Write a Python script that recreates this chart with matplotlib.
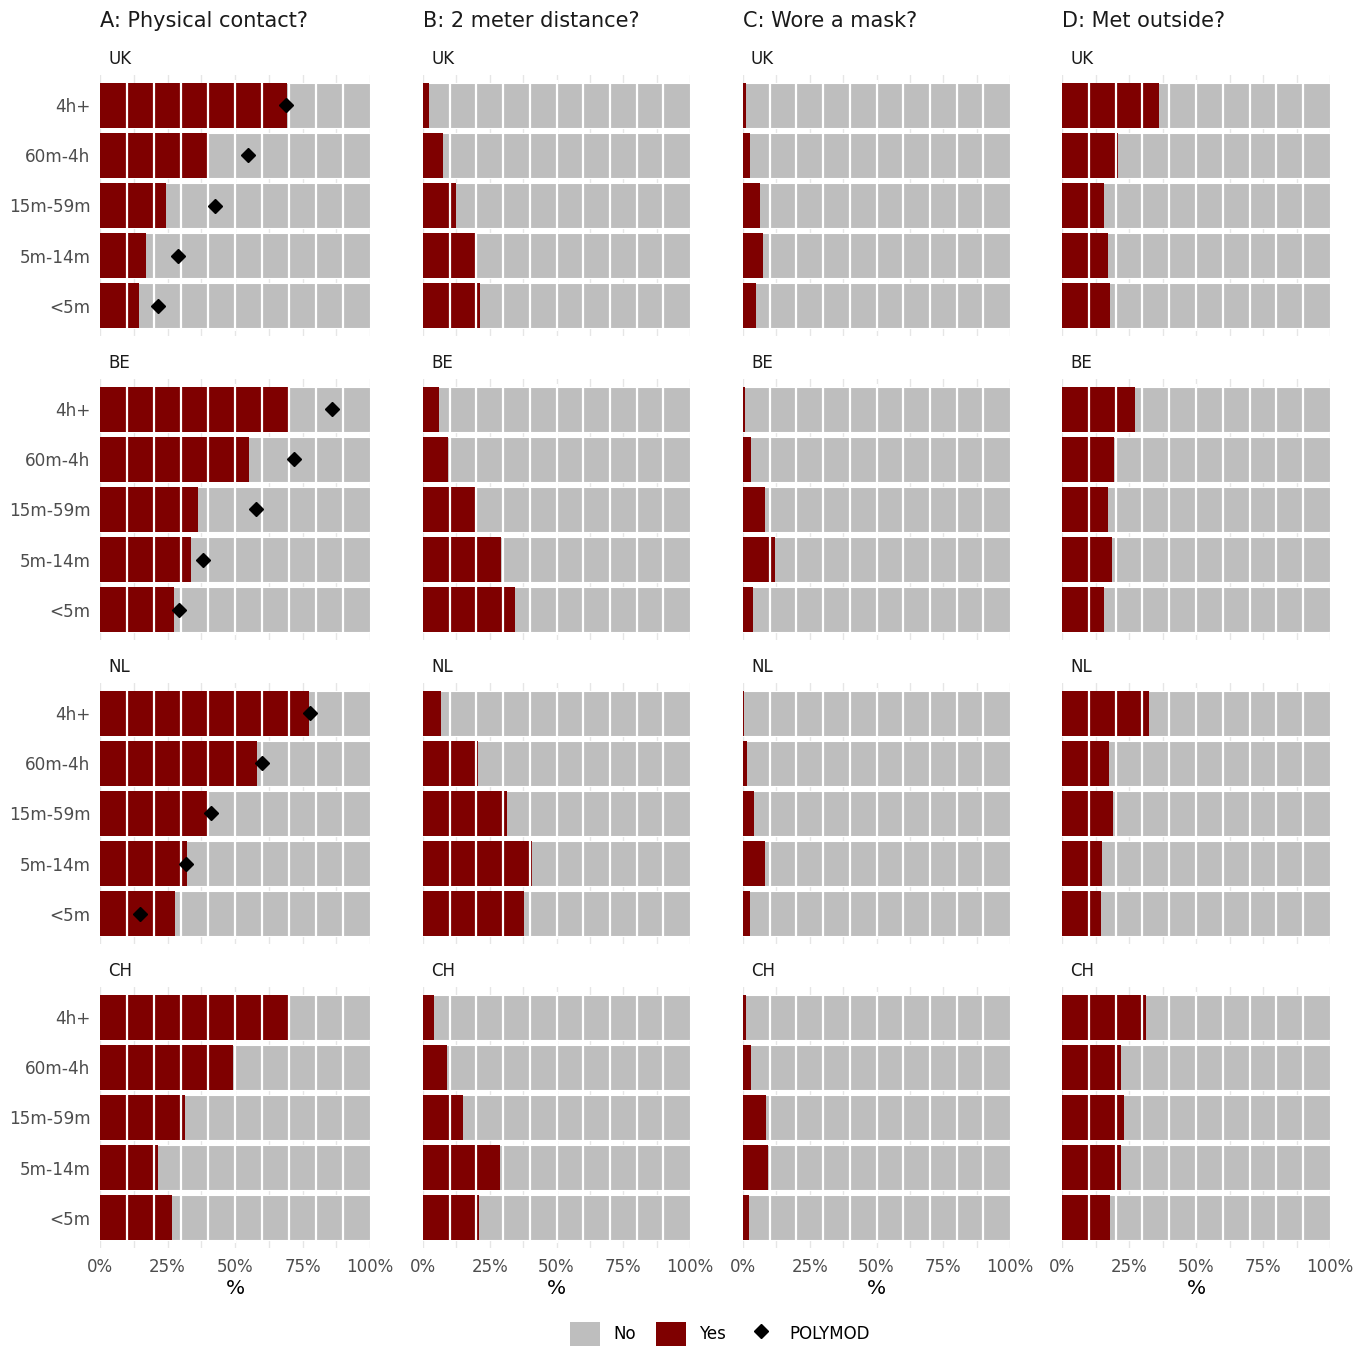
import matplotlib
matplotlib.use("Agg")
import matplotlib.pyplot as plt
from matplotlib.patches import Patch
from matplotlib.lines import Line2D

# ---------------- data ----------------
durations = ["4h+", "60m-4h", "15m-59m", "5m-14m", "<5m"]
countries = ["UK", "BE", "NL", "CH"]
questions = ["A: Physical contact?", "B: 2 meter distance?",
             "C: Wore a mask?", "D: Met outside?"]

# % answering "Yes" (order = durations)
physical_UK = [69.1, 39.7, 24.4, 17.2, 14.3]
physical_BE = [70.0, 55.2, 36.2, 33.7, 27.3]
physical_NL = [77.4, 58.0, 39.7, 32.2, 27.9]
physical_CH = [70.0, 49.3, 31.5, 21.5, 26.7]

distance_UK = [2.4, 7.4, 12.4, 19.4, 21.5]
distance_BE = [6.0, 9.3, 19.4, 29.4, 34.4]
distance_NL = [6.7, 20.7, 31.4, 40.9, 37.9]
distance_CH = [4.1, 9.1, 14.9, 28.9, 20.9]

mask_UK = [1.0, 2.7, 6.3, 7.4, 5.0]
mask_BE = [0.9, 2.9, 8.1, 11.9, 3.9]
mask_NL = [0.5, 1.6, 4.2, 8.4, 2.7]
mask_CH = [1.2, 2.9, 8.7, 9.5, 2.4]

outside_UK = [36.2, 20.9, 15.5, 17.2, 17.8]
outside_BE = [27.4, 19.4, 17.2, 18.8, 15.7]
outside_NL = [32.4, 17.5, 19.1, 15.1, 14.7]
outside_CH = [31.2, 21.9, 23.0, 22.2, 18.0]

# POLYMOD reference (physical contact only)
polymod_UK = [69.0, 54.9, 42.7, 28.8, 21.6]
polymod_BE = [85.9, 71.9, 57.8, 38.3, 29.1]
polymod_NL = [77.6, 60.1, 41.2, 31.7, 14.7]
polymod_err_UK = [1.5, 0.5, 0.5, 1.3, 1.8]
polymod_err_BE = [0.5, 1.5, 0.5, 1.3, 1.2]
polymod_err_NL = [0.5, 1.0, 1.2, 1.3, 0.5]

yes_values = [
    [physical_UK, physical_BE, physical_NL, physical_CH],
    [distance_UK, distance_BE, distance_NL, distance_CH],
    [mask_UK, mask_BE, mask_NL, mask_CH],
    [outside_UK, outside_BE, outside_NL, outside_CH],
]
polymod = {"UK": (polymod_UK, polymod_err_UK),
           "BE": (polymod_BE, polymod_err_BE),
           "NL": (polymod_NL, polymod_err_NL)}

x_ticks = [0, 25, 50, 75, 100]
x_ticklabels = ["0%", "25%", "50%", "75%", "100%"]

# ---------------- style ----------------
RED = "#7f0000"
GREY = "#bebebe"
GRID = "#e6e6e6"
TXT = "#4d4d4d"

W, H = 1370, 1347
fig = plt.figure(figsize=(W / 100, H / 100), dpi=100)
plt.rcParams["font.family"] = "DejaVu Sans"

col_left = [100, 423, 743, 1062]
col_w = [270, 267, 267, 268]
row_top = [75, 379, 683, 987]
row_h = 261

ypos = list(range(1, len(durations) + 1))

for ci, q in enumerate(questions):
    fig.text(col_left[ci] / W, 1 - 21 / H, q, fontsize=15, color="#1a1a1a",
             ha="left", va="center")
    for ri, ctry in enumerate(countries):
        left = col_left[ci]
        top = row_top[ri]
        ax = fig.add_axes([left / W, 1 - (top + row_h) / H, col_w[ci] / W, row_h / H])
        vals = yes_values[ci][ri]
        ax.barh(ypos, [100] * len(vals), height=0.9, color=GREY,
                edgecolor="white", linewidth=0.8, zorder=2)
        ax.barh(ypos, vals, height=0.9, color=RED, edgecolor="none", zorder=3)
        for xv in range(10, 100, 10):
            ax.vlines(xv, 0.5, 5.5, color="white", linewidth=1.6, zorder=4)
        if ci == 0 and ctry in polymod:
            pm, err = polymod[ctry]
            ax.errorbar(pm, ypos, xerr=err, fmt="none", ecolor="black",
                        elinewidth=0.8, capsize=0, zorder=5)
            ax.plot(pm, ypos, linestyle="none", marker="D", markersize=7.5,
                    color="black", zorder=6)
        ax.set_xlim(0, 100)
        ax.set_ylim(5.6, 0.4)
        ax.set_xticks(x_ticks)
        ax.set_xticks([12.5, 37.5, 62.5, 87.5], minor=True)
        ax.grid(which="both", axis="x", color=GRID, linewidth=1.0, zorder=0)
        ax.set_axisbelow(True)
        for s in ax.spines.values():
            s.set_visible(False)
        ax.tick_params(which="both", length=0)
        ax.set_yticks(ypos)
        if ci == 0:
            ax.set_yticklabels(durations, fontsize=12.2, color=TXT)
            ax.tick_params(axis="y", pad=7)
        else:
            ax.set_yticklabels([])
        if ri == len(countries) - 1:
            ax.set_xticklabels(x_ticklabels, fontsize=12, color=TXT)
            ax.tick_params(axis="x", pad=7)
            ax.set_xlabel("%", fontsize=14.5, color="black", labelpad=2)
        else:
            ax.set_xticklabels([])
        fig.text((left + 8) / W, 1 - (top - 16) / H, ctry, fontsize=12,
                 color="#1a1a1a", ha="left", va="center")

handles = [
    Patch(facecolor=GREY, edgecolor="none", label="No"),
    Patch(facecolor=RED, edgecolor="none", label="Yes"),
    Line2D([0], [0], linestyle="none", marker="D", markersize=7,
           color="black", label="POLYMOD"),
]
fig.legend(handles=handles, loc="center", bbox_to_anchor=(720 / W, 1 - 1334 / H),
           ncol=3, frameon=False, fontsize=12, handlelength=1.8,
           handleheight=1.9, handletextpad=0.8, columnspacing=1.2)

fig.savefig("out.png", dpi=100)
